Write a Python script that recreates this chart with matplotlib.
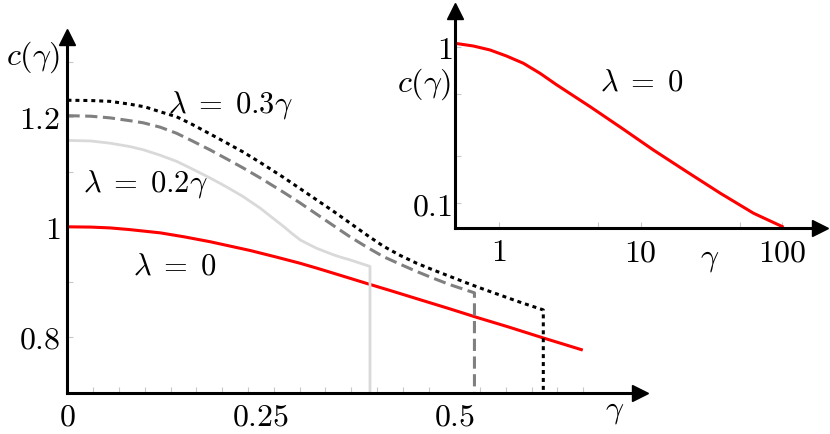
import numpy as np
import matplotlib
matplotlib.use("Agg")
import matplotlib.pyplot as plt

plt.rcParams['mathtext.fontset'] = 'cm'
plt.rcParams['font.family'] = ['DejaVu Serif']

# main panel, c(gamma)
gamma_l0 = [0, 0.03, 0.055, 0.08, 0.1, 0.12, 0.15, 0.184, 0.21, 0.236, 0.27, 0.3, 0.322,
            0.35, 0.387, 0.42, 0.45, 0.494, 0.53, 0.57, 0.615, 0.666]
c_l0 = [1.0, 0.9995, 0.998, 0.995, 0.992, 0.989, 0.982, 0.973, 0.965, 0.957, 0.945, 0.934, 0.925,
        0.913, 0.897, 0.883, 0.870, 0.851, 0.835, 0.818, 0.798, 0.776]

gamma_l1 = [0, 0.03, 0.055, 0.08, 0.098, 0.12, 0.141, 0.16, 0.184, 0.205, 0.227, 0.249, 0.268,
            0.279, 0.29, 0.301, 0.312, 0.322, 0.333, 0.344, 0.355, 0.365, 0.378, 0.391, 0.391]
c_l1 = [1.157, 1.156, 1.152, 1.146, 1.140, 1.130, 1.119, 1.106, 1.089, 1.073, 1.055, 1.034, 1.013,
        1.001, 0.988, 0.976, 0.968, 0.961, 0.955, 0.949, 0.944, 0.940, 0.934, 0.928, 0.698]

gamma_l2 = [0, 0.03, 0.055, 0.08, 0.098, 0.12, 0.141, 0.16, 0.184, 0.205, 0.227, 0.249, 0.279,
            0.3, 0.322, 0.345, 0.365, 0.387, 0.408, 0.43, 0.451, 0.472, 0.494, 0.526, 0.526]
c_l2 = [1.202, 1.201, 1.198, 1.193, 1.189, 1.181, 1.170, 1.157, 1.140, 1.124, 1.107, 1.089, 1.063,
        1.044, 1.023, 1.001, 0.982, 0.963, 0.946, 0.932, 0.919, 0.907, 0.895, 0.880, 0.698]

gamma_l3 = [0, 0.03, 0.055, 0.08, 0.1, 0.12, 0.141, 0.16, 0.184, 0.205, 0.227, 0.249, 0.279,
            0.3, 0.322, 0.345, 0.365, 0.387, 0.408, 0.43, 0.451, 0.472, 0.494, 0.516, 0.537,
            0.559, 0.587, 0.615, 0.615]
c_l3 = [1.230, 1.2295, 1.228, 1.223, 1.218, 1.209, 1.200, 1.187, 1.169, 1.153, 1.136, 1.117, 1.090,
        1.070, 1.049, 1.027, 1.007, 0.985, 0.965, 0.948, 0.934, 0.922, 0.910, 0.898, 0.887,
        0.876, 0.862, 0.849, 0.698]

# inset, log-log, lambda = 0
gamma_log = [0.49, 0.66, 0.864, 1.13, 1.485, 1.95, 2.56, 4.40, 7.4, 12.3, 21.2, 36.5, 62.7, 100]
c_log = [1.051, 1.01, 0.953, 0.872, 0.784, 0.676, 0.570, 0.414, 0.301, 0.219, 0.159, 0.116, 0.0864, 0.071]

xticks_main = [0, 0.25, 0.5]
xlabels_main = ['$0$', '$0.25$', '$0.5$']
yticks_main = [0.8, 1.0, 1.2]
ylabels_main = ['$0.8$', '$1$', '$1.2$']

fs = 23
lfs = 22
tick_col = '#c8c8c8'

fig = plt.figure(figsize=(8.3, 4.34), dpi=100)
ax = fig.add_axes([0.0813, 0.0945, 0.6898, 0.8203])
ax.set_facecolor('none')

ax.plot(gamma_l0, c_l0, color='#ff0000', lw=2.2, solid_capstyle='butt')
ax.plot(gamma_l1, c_l1, color='#d9d9d9', lw=2.0)
ax.plot(gamma_l2, c_l2, color='#808080', lw=2.2, linestyle=(0, (4, 1.8)))
ax.plot(gamma_l3, c_l3, color='black', lw=2.2, linestyle=(0, (1.3, 1.3)))

ax.set_xlim(0, 0.740)
ax.set_ylim(0.698, 1.345)

for s in ['top', 'right']:
    ax.spines[s].set_visible(False)
for s in ['left', 'bottom']:
    ax.spines[s].set_linewidth(2.2)
ax.plot(1, 0, '>k', ms=11, transform=ax.transAxes, clip_on=False)
ax.plot(0, 1, '^k', ms=11, transform=ax.transAxes, clip_on=False)

ax.set_xticks(xticks_main, xlabels_main)
ax.set_xticks([k / 30 for k in range(1, 21)], minor=True)
ax.set_yticks(yticks_main, ylabels_main)
ax.set_yticks([0.9, 1.1, 1.3], minor=True)
ax.tick_params(axis='x', which='major', length=0, pad=6, labelsize=fs)
ax.tick_params(axis='y', which='major', direction='in', length=4, width=0.8,
               color=tick_col, pad=5, labelsize=fs)
ax.tick_params(which='minor', direction='in', length=4, width=0.8, color=tick_col)

ax.text(0.211, 1.222, r'$\lambda\;=\;0.3\gamma$', fontsize=lfs, ha='center', va='center')
ax.text(0.101, 1.078, r'$\lambda\;=\;0.2\gamma$', fontsize=lfs, ha='center', va='center')
ax.text(0.139, 0.929, r'$\lambda\;=\;0$', fontsize=lfs, ha='center', va='center')
fig.text(33 / 830, 1 - 57 / 434, r'$c(\gamma)$', fontsize=fs, ha='center', va='center')
fig.text(615 / 830, 1 - 410 / 434, r'$\gamma$', fontsize=fs, ha='center', va='center')

# inset
ins = fig.add_axes([0.5482, 0.4753, 0.4398, 0.4993])
ins.set_facecolor('none')
ins.plot(gamma_log, c_log, color='#ff0000', lw=2.2)
ins.set_xscale('log')
ins.set_yscale('log')
ins.set_xlim(0.489, 185)
ins.set_ylim(0.0698, 1.69)
for s in ['top', 'right']:
    ins.spines[s].set_visible(False)
for s in ['left', 'bottom']:
    ins.spines[s].set_linewidth(2.2)
ins.plot(1, 0, '>k', ms=11, transform=ins.transAxes, clip_on=False)
ins.plot(0, 1, '^k', ms=11, transform=ins.transAxes, clip_on=False)

ins.set_xticks([1, 10, 100], ['$1$', '$10$', '$100$'])
ins.set_xticks([5, 50], minor=True)
ins.set_yticks([0.1, 1], ['$0.1$', '$1$'])
ins.set_yticks([0.2, 0.5], minor=True)
ins.xaxis.set_minor_formatter(matplotlib.ticker.NullFormatter())
ins.yaxis.set_minor_formatter(matplotlib.ticker.NullFormatter())
ins.tick_params(which='both', direction='in', length=4, width=0.8, color=tick_col)
ins.tick_params(axis='x', which='major', pad=7, labelsize=fs)
ins.tick_params(axis='y', which='major', pad=2, labelsize=fs)

ins.text(10.1, 0.591, r'$\lambda\;=\;0$', fontsize=lfs, ha='center', va='center')
fig.text(424 / 830, 1 - 84 / 434, r'$c(\gamma)$', fontsize=fs, ha='center', va='center')
fig.text(710 / 830, 1 - 258 / 434, r'$\gamma$', fontsize=fs, ha='center', va='center')

fig.savefig('out.png', dpi=100)
